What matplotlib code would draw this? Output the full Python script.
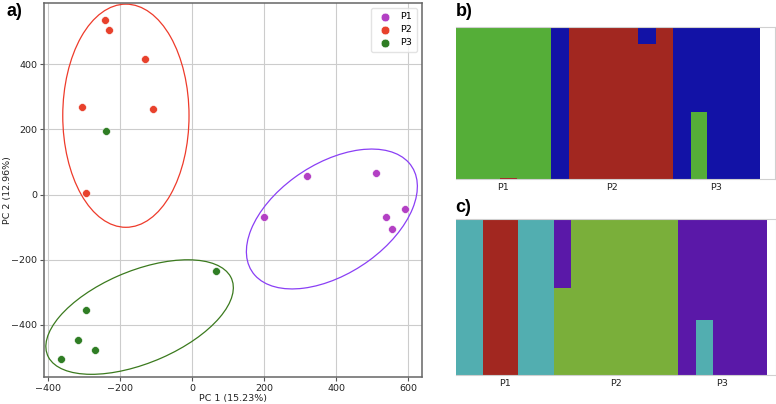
import numpy as np
import matplotlib.pyplot as plt
from matplotlib.patches import Ellipse

# PCA scores per population
pops = ["P1", "P2", "P3"]
pc1 = {
    "P1": [200, 320, 510, 538, 554, 590],
    "P2": [-242, -231, -131, -304, -107, -294],
    "P3": [-239, 66, -293, -317, -270, -364],
}
pc2 = {
    "P1": [-70, 57, 65, -70, -107, -44],
    "P2": [537, 505, 417, 270, 264, 5],
    "P3": [194, -236, -354, -447, -476, -506],
}
point_colors = {"P1": "#b340c4", "P2": "#e8412c", "P3": "#2f7d24"}

# confidence ellipses: centre x, centre y, width, height, angle
ell_cx = {"P1": 388, "P2": -183, "P3": -145}
ell_cy = {"P1": -75, "P2": 242, "P3": -376}
ell_w = {"P1": 549, "P2": 350, "P3": 562}
ell_h = {"P1": 328, "P2": 685, "P3": 279}
ell_ang = {"P1": 39, "P2": 0, "P3": 26}
ell_colors = {"P1": "#8a3ff5", "P2": "#ee3b2b", "P3": "#3b7a1e"}

# structure plot b (K=3): bar widths, population of each bar, cluster memberships
b_width = [44, 16.7, 34.3, 9.3, 9, 68.7, 17.7, 8.6, 8.7, 17.7, 16.6, 52.7]
b_pop = ["P1", "P1", "P1", "P2", "P2", "P2", "P2", "P2", "P2", "P3", "P3", "P3"]
b_red = [0, 0.01, 0, 0, 0, 1, 0.89, 1, 1, 0, 0, 0]
b_green = [1, 0.99, 1, 0, 0, 0, 0, 0, 0, 0, 0.44, 0]
b_blue = [0, 0, 0, 1, 1, 0, 0.11, 0, 0, 1, 0.56, 1]

# structure plot c (K=4)
c_width = [26.7, 35, 36, 8.6, 9, 106.4, 18.3, 17, 53.7]
c_pop = ["P1", "P1", "P1", "P2", "P2", "P2", "P3", "P3", "P3"]
c_cyan = [1, 0, 1, 0, 0, 0, 0, 0.35, 0]
c_red = [0, 1, 0, 0, 0, 0, 0, 0, 0]
c_green = [0, 0, 0, 0.56, 0.56, 1, 0, 0, 0]
c_purple = [0, 0, 0, 0.44, 0.44, 0, 1, 0.65, 1]

W, H = 776, 404
fig = plt.figure(figsize=(W / 100, H / 100), dpi=100)
plt.rcParams["font.family"] = "DejaVu Sans"


def rect(x0, y0, x1, y1):
    return [x0 / W, 1 - y1 / H, (x1 - x0) / W, (y1 - y0) / H]


# ---- a) PCA ----
ax = fig.add_axes(rect(44, 3, 421.7, 377))
ax.set_xlim(-410, 637)
ax.set_ylim(-560, 588)
ax.grid(True, color="#cccccc", linewidth=0.8)
ax.set_axisbelow(True)
for p in pops:
    ax.scatter(pc1[p], pc2[p], s=32, color=point_colors[p], edgecolors="white",
               linewidths=0.4, label=p, zorder=3)
    ax.add_patch(Ellipse((ell_cx[p], ell_cy[p]), ell_w[p], ell_h[p], angle=ell_ang[p],
                         fill=False, edgecolor=ell_colors[p], linewidth=0.9, zorder=2))
ax.set_xticks([-400, -200, 0, 200, 400, 600])
ax.set_yticks([-400, -200, 0, 200, 400])
ax.tick_params(labelsize=6.8, length=3, color="#555555", labelcolor="#222222", pad=2)
ax.set_xlabel("PC 1 (15.23%)", fontsize=6.8, labelpad=1, color="#222222")
ax.set_ylabel("PC 2 (12.96%)", fontsize=6.8, color="#222222")
ax.yaxis.set_label_coords(-0.084, 0.5)
for s in ax.spines.values():
    s.set_color("#666666")
    s.set_linewidth(1.1)
ax.legend(loc="upper right", fontsize=6.8, frameon=True, handletextpad=0.6,
          borderpad=0.5, labelspacing=0.4, edgecolor="#dddddd", markerscale=1.1)
fig.text(7 / W, 1 - 12 / H, "a)", fontsize=13, fontweight="bold",
         family="Liberation Sans", va="center", ha="left")


def structure(axis, widths, pop_of, layers, xmax):
    left = np.concatenate([[0], np.cumsum(widths)[:-1]])
    bottom = np.zeros(len(widths))
    for vals, col in layers:
        axis.bar(left, vals, width=widths, bottom=bottom, align="edge",
                 color=col, linewidth=0)
        bottom = bottom + np.array(vals)
    axis.set_xlim(0, xmax)
    axis.set_ylim(0, 1)
    axis.set_yticks([])
    centres = []
    for p in pops:
        idx = [i for i, q in enumerate(pop_of) if q == p]
        centres.append(left[idx[0]] + sum(widths[i] for i in idx) / 2)
    axis.set_xticks(centres)
    axis.set_xticklabels(pops, fontsize=6.8, color="#222222")
    axis.tick_params(length=0, pad=3)
    for s in axis.spines.values():
        s.set_color("#d0d0d0")
        s.set_linewidth(0.8)
    axis.spines["left"].set_visible(False)


# ---- b) ----
axb = fig.add_axes(rect(456, 27.3, 775, 179.3))
structure(axb, b_width, b_pop,
          [(b_red, "#a22720"), (b_green, "#55ae38"), (b_blue, "#1212a6")], 319)
fig.text(456 / W, 1 - 12 / H, "b)", fontsize=13, fontweight="bold",
         family="Liberation Sans", va="center", ha="left")

# ---- c) ----
axc = fig.add_axes(rect(456, 219.3, 776, 374.7))
structure(axc, c_width, c_pop,
          [(c_cyan, "#52aeb0"), (c_red, "#a22720"), (c_green, "#7aaf3a"),
           (c_purple, "#5a18a8")], 320)
fig.text(455 / W, 1 - 207 / H, "c)", fontsize=13, fontweight="bold",
         family="Liberation Sans", va="center", ha="left")

fig.savefig("out.png", dpi=100)
